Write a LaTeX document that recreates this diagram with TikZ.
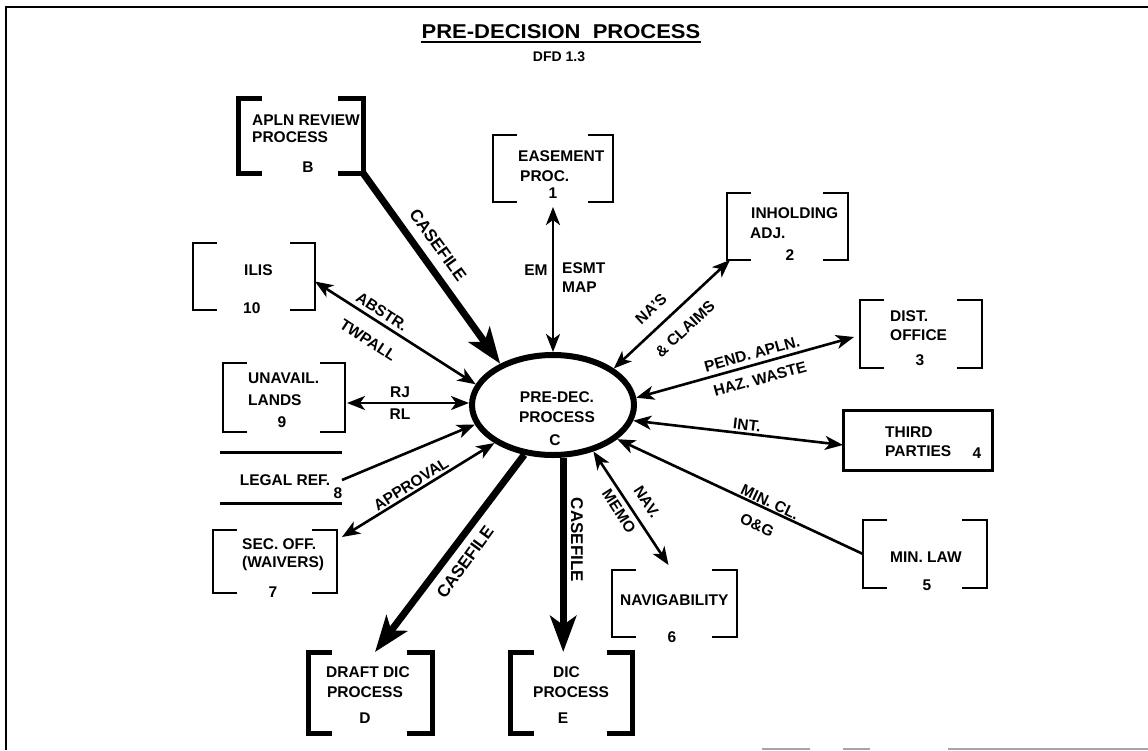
\documentclass[tikz,border=0pt]{standalone}
\usepackage{fontspec}
\setmainfont{Liberation Sans}
\usetikzlibrary{arrows.meta,calc,shapes.geometric}

% Bracketed process box: name, x1, y1, x2, y2, bracket style
\newcommand\dfdbox[6]{%
  \node[boxarea, minimum width={(#4-#2)*1pt}, minimum height={(#5-#3)*1pt}]
    (#1) at ({(#2+#4)/2},{(#3+#5)/2}) {};
  \draw[#6] ([xshift=24pt]#1.north west) -- (#1.north west) -- (#1.south west) -- ([xshift=24pt]#1.south west);
  \draw[#6] ([xshift=-25pt]#1.north east) -- (#1.north east) -- (#1.south east) -- ([xshift=-25pt]#1.south east);
}

\begin{document}
\begin{tikzpicture}[x=1pt,y=-1pt,
  boxarea/.style={draw=none, inner sep=0pt, outer sep=0pt},
  brk/.style={line width=2.6pt, line join=miter},
  thickbrk/.style={line width=5pt, line join=miter},
  txt/.style={font=\bfseries\fontsize{15.5}{17}\selectfont, inner sep=0pt},
  bigtxt/.style={font=\bfseries\fontsize{17}{19}\selectfont, inner sep=0pt},
  hd/.tip={Stealth[length=18pt,width=14pt,inset=5pt]},
  bighd/.tip={Stealth[length=36pt,width=26pt,inset=9pt]},
  conn/.style={line width=2.6pt},
  both/.style={arrows={hd-hd}},
  casefile/.style={line width=7pt, arrows={-bighd}},
]
\useasboundingbox (0,0) rectangle (1148,750);

% page frame
\draw[line width=2pt] (6,750) -- (6,7) -- (1148,7);
\draw[gray!70, line width=1.5pt] (762,749) -- (810,749) (843,749) -- (870,749) (948,749) -- (1148,749);

% heading
\node[inner sep=0pt, font=\bfseries\fontsize{20}{24}\selectfont] (title) at (561,32)
  {\scalebox{1.1}[1]{PRE-DECISION\ \ PROCESS}};
\draw[line width=2pt] ([yshift=-3pt]title.base west) -- ([yshift=-3pt]title.base east);
\node[txt, font=\bfseries\fontsize{14}{16}\selectfont] (dfd) at (559,57) {DFD 1.3};

% central process
\node[ellipse, draw, line width=6pt, minimum width=162pt, minimum height=100pt, inner sep=0pt] (c) at (553,405) {};
\node[txt] (cl1) at (557,397) {PRE-DEC.};
\node[txt] (cl2) at (557,417) {PROCESS};
\node[txt] (cl3) at (555,440) {C};

% surrounding processes
\dfdbox{apln}{238}{98}{363}{173}{thickbrk}
\node[txt, anchor=west] (aplnA) at (252,120) {APLN REVIEW};
\node[txt, anchor=west] (aplnB) at (252,137) {PROCESS};
\node[txt] (aplnC) at (308,167) {B};

\dfdbox{esmt}{493}{135}{613}{202}{brk}
\node[txt, anchor=west] (esmtA) at (518,156) {EASEMENT};
\node[txt, anchor=west] (esmtB) at (520,176) {PROC.};
\node[txt] (esmtC) at (553,193) {1};

\dfdbox{inh}{727}{193}{848}{260}{brk}
\node[txt, anchor=west] (inhA) at (751,213) {INHOLDING};
\node[txt, anchor=west] (inhB) at (750,233) {ADJ.};
\node[txt] (inhC) at (790,255) {2};

\dfdbox{ilis}{193}{243}{315}{310}{brk}
\node[txt, anchor=west] (ilisA) at (244,270) {ILIS};
\node[txt, anchor=west] (ilisB) at (243,308) {10};

\dfdbox{dist}{860}{300}{982}{368}{brk}
\node[txt, anchor=west] (distA) at (890,316) {DIST.};
\node[txt, anchor=west] (distB) at (890,335) {OFFICE};
\node[txt] (distC) at (920,360) {3};

\dfdbox{unav}{223}{363}{345}{432}{brk}
\node[txt, anchor=west] (unavA) at (248,378) {UNAVAIL.};
\node[txt, anchor=west] (unavB) at (248,400) {LANDS};
\node[txt] (unavC) at (282,422) {9};

\node[draw, line width=3pt, inner sep=0pt, outer sep=0pt, minimum width=149pt, minimum height=60pt] (third) at (917.5,440) {};
\node[txt, anchor=west] (thirdA) at (885,432) {THIRD};
\node[txt, anchor=west] (thirdB) at (885,451) {PARTIES};
\node[txt] (thirdC) at (977,453) {4};

\node[boxarea, minimum width=122pt, minimum height=51pt] (legal) at (281,477.5) {};
\draw[line width=3pt] (legal.north west) -- (legal.north east);
\draw[line width=3pt] (legal.south west) -- (legal.south east);
\node[txt] (legalA) at (285,480) {LEGAL REF.};
\node[txt] (legalB) at (338,493) {8};

\dfdbox{sec}{213}{530}{337}{593}{brk}
\node[txt, anchor=west] (secA) at (242,544) {SEC. OFF.};
\node[txt, anchor=west] (secB) at (242,563) {(WAIVERS)};
\node[txt] (secC) at (273,592) {7};

\dfdbox{minlaw}{863}{520}{987}{588}{brk}
\node[txt, anchor=west] (minA) at (890,557) {MIN. LAW};
\node[txt] (minB) at (927,585) {5};

\dfdbox{nav}{612}{570}{737}{637}{brk}
\node[txt, anchor=west] (navA) at (620,600) {NAVIGABILITY};
\node[txt] (navB) at (672,637) {6};

\dfdbox{draft}{308}{652}{432}{733}{thickbrk}
\node[txt] (draftA) at (368,672) {DRAFT DIC};
\node[txt] (draftB) at (365,692) {PROCESS};
\node[txt] (draftC) at (365,718) {D};

\dfdbox{dic}{510}{652}{632}{733}{thickbrk}
\node[txt, anchor=west] (dicA) at (553,672) {DIC};
\node[txt, anchor=west] (dicB) at (533,692) {PROCESS};
\node[txt] (dicC) at (563,718) {E};

% data flows
\draw[casefile] (apln.south east) -- (c.142);
\node[bigtxt, rotate=-54] (lcase1) at (438,245) {CASEFILE};

\draw[conn, both] ([yshift=-5pt]esmt.south) -- (c.north);
\node[txt] (lem) at (536,270) {EM};
\node[txt, anchor=west] (lesmt) at (562,268) {ESMT};
\node[txt, anchor=west] (lmap) at (562,287) {MAP};

\draw[conn, both] ([xshift=3pt]inh.south west) -- (c.31);
\node[txt, rotate=43] (lnas) at (651,309) {NA'S};
\node[txt, rotate=43] (lclaims) at (685,329) {\& CLAIMS};

\draw[conn, both] ([xshift=-6pt,yshift=-3pt]dist.west) -- (c.5);
\node[txt, rotate=15.5] (lpend) at (752,354) {PEND. APLN.};
\node[txt, rotate=15.5] (lhaz) at (760,379) {HAZ. WASTE};

\draw[conn, both] ([yshift=-5pt]ilis.east) -- (c.165);
\node[txt, rotate=-33] (labstr) at (382,312) {ABSTR.};
\node[txt, rotate=-33] (ltwp) at (368,340) {TWPALL};

\coordinate (rj) at ([xshift=2pt,yshift=-5.5pt]unav.east);
\draw[conn, both] (rj) -- (rj -| c.west);
\node[txt] (lrj) at (400,392) {RJ};
\node[txt] (lrl) at (400,414) {RL};

\draw[conn, -hd] ([yshift=-2.5pt]legal.east) -- (c.194);

\draw[conn, both] (c.213) -- ([xshift=5pt,yshift=-7pt]sec.north east);
\node[txt, rotate=32] (lappr) at (411,484) {APPROVAL};

\draw[casefile] (c.240) -- ([xshift=5pt]draft.north);
\node[bigtxt, rotate=54] (lcase2) at (465,562) {CASEFILE};

\coordinate (cb) at (c.281);
\draw[casefile] (cb) -- (cb |- dic.north);
\node[bigtxt, rotate=-90] (lcase3) at (577,540) {CASEFILE};

\draw[conn, both] (c.311) -- ([xshift=-6pt,yshift=5pt]nav.north);
\node[txt, rotate=-57] (lnav) at (647,502) {NAV.};
\node[txt, rotate=-57] (lmemo) at (619,511) {MEMO};

\draw[conn, both] (c.349) -- ([yshift=-5pt]third.west);
\node[txt, rotate=-6.5] (lint) at (747,425) {INT.};

\draw[conn, -hd] (minlaw.west) -- (c.332);
\node[txt, rotate=-25] (lmincl) at (770,502) {MIN. CL.};
\node[txt, rotate=-25] (log) at (757,525) {O\&G};
\end{tikzpicture}
\end{document}
